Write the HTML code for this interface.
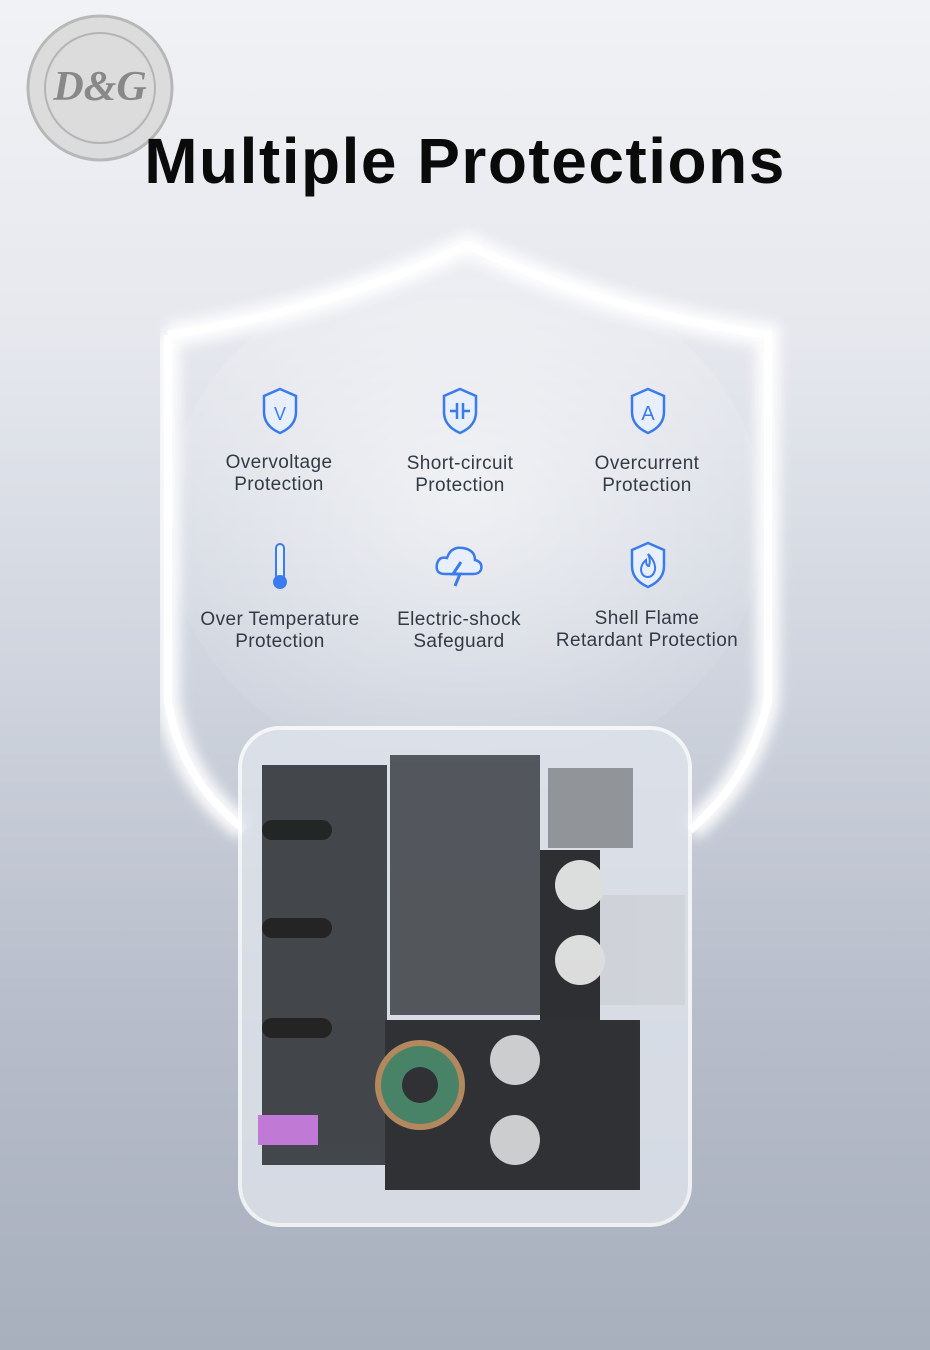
<!DOCTYPE html>
<html><head><meta charset="utf-8"><style>
*{margin:0;padding:0;box-sizing:border-box}
body{width:930px;height:1350px;overflow:hidden;position:relative;font-family:"Liberation Sans",sans-serif;
background:linear-gradient(180deg,#f1f2f5 0%,#e6e8ee 25%,#cfd4de 50%,#b7bdca 75%,#a8afbd 100%)}
.t{position:absolute;left:0;width:930px;text-align:center;top:124px;font-size:64px;font-weight:bold;color:#0a0a0a;letter-spacing:1.5px}
.lbl{position:absolute;width:200px;text-align:center;font-size:19px;line-height:22px;color:#333a45;letter-spacing:0.4px}
.ic{position:absolute}
</style></head><body>
<svg width="930" height="1350" style="position:absolute;left:0;top:0">
<defs><filter id="g"><feGaussianBlur stdDeviation="6"/></filter>
<radialGradient id="rg" cx="0.5" cy="0.45" r="0.6"><stop offset="0" stop-color="#fff" stop-opacity="0.55"/><stop offset="1" stop-color="#fff" stop-opacity="0"/></radialGradient></defs>
<path d="M168 335 Q330 310 468 245 Q600 310 768 335 L768 700 Q750 780 690 830" fill="none" stroke="#fff" stroke-width="24" filter="url(#g)" opacity="0.9"/>
<path d="M168 335 L168 700 Q180 780 245 830" fill="none" stroke="#fff" stroke-width="24" filter="url(#g)" opacity="0.9"/>
<path d="M168 335 Q330 310 468 245 Q600 310 768 335 L768 700 Q750 780 690 830 M168 335 L168 700 Q180 780 245 830" fill="none" stroke="#fff" stroke-width="8"/>
<ellipse cx="465" cy="520" rx="300" ry="260" fill="url(#rg)"/>
<circle cx="100" cy="88" r="72" fill="#d8d8d8" stroke="#aaa" stroke-width="3" opacity="0.8"/>
<circle cx="100" cy="88" r="55" fill="none" stroke="#aaa" stroke-width="2" opacity="0.8"/>
<text x="100" y="100" font-family="Liberation Serif" font-size="42" font-weight="bold" font-style="italic" fill="#888" text-anchor="middle">D&amp;G</text>
<rect x="240" y="728" width="450" height="497" rx="40" fill="#dfe4ec" opacity="0.8" stroke="#fff" stroke-width="4"/>
<g opacity="0.9">
<rect x="262" y="765" width="125" height="400" fill="#33363b"/>
<rect x="390" y="755" width="150" height="260" fill="#45484d"/>
<rect x="548" y="768" width="85" height="80" fill="#8a8c90"/>
<rect x="600" y="895" width="85" height="110" fill="#cfd3d8"/>
<rect x="540" y="850" width="60" height="170" fill="#1c1d20"/>
<rect x="385" y="1020" width="255" height="170" fill="#1e1f22"/>
<circle cx="420" cy="1085" r="42" fill="#3a7a5a" stroke="#b08050" stroke-width="6"/>
<circle cx="420" cy="1085" r="18" fill="#1e1f22"/>
<circle cx="515" cy="1060" r="25" fill="#ccc"/><circle cx="515" cy="1140" r="25" fill="#ccc"/>
<circle cx="580" cy="885" r="25" fill="#ddd"/><circle cx="580" cy="960" r="25" fill="#ddd"/>
<rect x="262" y="820" width="70" height="20" rx="10" fill="#111"/>
<rect x="262" y="918" width="70" height="20" rx="10" fill="#111"/>
<rect x="262" y="1018" width="70" height="20" rx="10" fill="#111"/>
</g>
<rect x="258" y="1115" width="60" height="30" fill="#c079d4"/>
</svg>
<div class="t">Multiple Protections</div>
<svg class="ic" style="left:260px;top:386px" width="40" height="50"><path d="M20 3 L36 10 V26 Q36 40 20 47 Q4 40 4 26 V10 Z" fill="#e8f0ff" stroke="#3a7bf0" stroke-width="2.5"/><text x="20" y="34" font-size="18" text-anchor="middle" fill="#3a7bf0">V</text></svg>
<svg class="ic" style="left:440px;top:386px" width="40" height="50"><path d="M20 3 L36 10 V26 Q36 40 20 47 Q4 40 4 26 V10 Z" fill="#e8f0ff" stroke="#3a7bf0" stroke-width="2.5"/><path d="M10 25 H17 M17 17 V33 M23 17 V33 M23 25 H30" stroke="#3a7bf0" stroke-width="2.5"/></svg>
<svg class="ic" style="left:628px;top:386px" width="40" height="50"><path d="M20 3 L36 10 V26 Q36 40 20 47 Q4 40 4 26 V10 Z" fill="#e8f0ff" stroke="#3a7bf0" stroke-width="2.5"/><text x="20" y="34" font-size="20" text-anchor="middle" fill="#3a7bf0">A</text></svg>
<svg class="ic" style="left:268px;top:542px" width="24" height="50"><rect x="8" y="2" width="8" height="36" rx="4" fill="#e8f0ff" stroke="#3a7bf0" stroke-width="2"/><circle cx="12" cy="40" r="7" fill="#3a7bf0"/></svg>
<svg class="ic" style="left:433px;top:542px" width="52" height="46"><path d="M12 32 Q2 32 4 22 Q6 14 14 16 Q18 4 30 6 Q42 8 42 18 Q50 20 48 28 Q46 32 40 32 Z" fill="#e8f0ff" stroke="#3a7bf0" stroke-width="2.5"/><path d="M28 20 L20 32 H27 L22 44" stroke="#3a7bf0" stroke-width="3" fill="none"/></svg>
<svg class="ic" style="left:628px;top:540px" width="40" height="50"><path d="M20 3 L36 10 V26 Q36 40 20 47 Q4 40 4 26 V10 Z" fill="#e8f0ff" stroke="#3a7bf0" stroke-width="2.5"/><path d="M20 14 Q28 22 27 30 Q25 37 20 37 Q14 37 13 30 Q13 24 18 20 Q18 26 21 26 Q23 20 20 14Z" fill="none" stroke="#3a7bf0" stroke-width="2"/></svg>
<div class="lbl" style="left:179px;top:452px">Overvoltage<br>Protection</div>
<div class="lbl" style="left:360px;top:453px">Short-circuit<br>Protection</div>
<div class="lbl" style="left:547px;top:453px">Overcurrent<br>Protection</div>
<div class="lbl" style="left:170px;top:609px;width:220px">Over Temperature<br>Protection</div>
<div class="lbl" style="left:359px;top:609px">Electric-shock<br>Safeguard</div>
<div class="lbl" style="left:532px;top:608px;width:230px">Shell Flame<br>Retardant Protection</div>
</body></html>
